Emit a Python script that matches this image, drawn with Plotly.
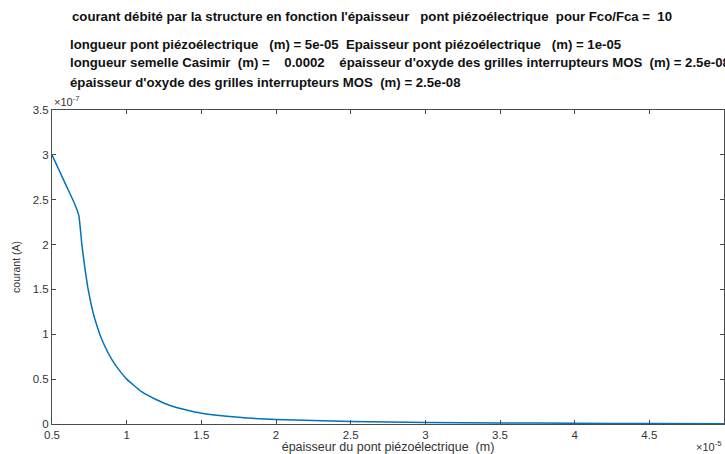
import plotly.graph_objects as go

# thickness of the piezoelectric bridge (units of 1e-5 m)
thickness = [0.50, 0.55, 0.60, 0.65, 0.68, 0.70, 0.72, 0.74, 0.76, 0.78, 0.80,
             0.82, 0.85, 0.90, 0.95, 1.00, 1.10, 1.20, 1.30, 1.40, 1.50, 1.75,
             2.00, 2.50, 3.00, 3.50, 4.00, 4.50, 5.00]
# delivered current (units of 1e-7 A)
current = [3.00, 2.82, 2.64, 2.46, 2.32, 2.00, 1.74, 1.52, 1.35, 1.21, 1.10,
           1.00, 0.88, 0.72, 0.60, 0.50, 0.36, 0.27, 0.20, 0.155, 0.12, 0.075,
           0.050, 0.028, 0.018, 0.012, 0.008, 0.006, 0.004]

x_ticks = [0.5, 1, 1.5, 2, 2.5, 3, 3.5, 4, 4.5, 5]
x_tick_text = ["0.5", "1", "1.5", "2", "2.5", "3", "3.5", "4", "4.5", "5"]
y_ticks = [0, 0.5, 1, 1.5, 2, 2.5, 3, 3.5]
y_tick_text = ["0", "0.5", "1", "1.5", "2", "2.5", "3", "3.5"]

title_lines = [
    "courant débité par la structure en fonction l'épaisseur   pont piézoélectrique  pour Fco/Fca =  10",
    "longueur pont piézoélectrique   (m) = 5e-05  Epaisseur pont piézoélectrique   (m) = 1e-05",
    "longueur semelle Casimir  (m) =    0.0002    épaisseur d'oxyde des grilles interrupteurs MOS  (m) = 2.5e-08",
    "épaisseur d'oxyde des grilles interrupteurs MOS  (m) = 2.5e-08",
]
title_x_px = [70, 68, 68, 68]
title_y_px = [17, 44, 63, 82]

W, H = 725, 454
L, R, T, B = 52, 1, 110, 30
plot_w = W - L - R
plot_h = H - T - B

axis_color = "#4a4a4a"
text_color = "#333333"
font_family = "Liberation Sans, Arial, sans-serif"

fig = go.Figure()
fig.add_trace(go.Scatter(
    x=thickness, y=current, mode="lines",
    line=dict(color="#0072BD", width=1.5, shape="spline", smoothing=0.4),
    showlegend=False, hoverinfo="skip",
))

axis_common = dict(
    showgrid=False, zeroline=False, showline=True, linecolor=axis_color,
    linewidth=1, mirror="ticks", ticks="inside", ticklen=4, tickcolor=axis_color,
    tickwidth=1, tickfont=dict(family=font_family, size=11.5, color=text_color),
)

fig.update_xaxes(
    range=[0.5, 5.0], tickvals=x_ticks, ticktext=x_tick_text,
    title=dict(text="épaisseur du pont piézoélectrique  (m)", standoff=4,
               font=dict(family=font_family, size=12.5, color=text_color)),
    **axis_common,
)
fig.update_yaxes(
    range=[0, 3.5], tickvals=y_ticks, ticktext=y_tick_text,
    title=dict(text="courant (A)", standoff=10,
               font=dict(family=font_family, size=10.5, color=text_color)),
    **axis_common,
)

annotations = []
for text, xpx, ypx in zip(title_lines, title_x_px, title_y_px):
    annotations.append(dict(
        text="<b>" + text + "</b>", xref="paper", yref="paper",
        x=(xpx - L) / plot_w, y=(H - B - ypx) / plot_h,
        xanchor="left", yanchor="middle", showarrow=False,
        font=dict(family=font_family, size=13.2, color="#111111"),
    ))
# axis exponent labels
annotations.append(dict(
    text="×10<sup>-7</sup>", xref="paper", yref="paper", x=0, y=1,
    xanchor="left", yanchor="bottom", showarrow=False,
    font=dict(family=font_family, size=11, color=text_color),
))
annotations.append(dict(
    text="×10<sup>-5</sup>", xref="paper", yref="paper", x=1, y=0,
    xanchor="right", yanchor="top", showarrow=False, yshift=-13,
    font=dict(family=font_family, size=11, color=text_color),
))

fig.update_layout(
    width=W, height=H, margin=dict(l=L, r=R, t=T, b=B),
    paper_bgcolor="white", plot_bgcolor="white",
    annotations=annotations,
)

fig.write_html("out.html")
